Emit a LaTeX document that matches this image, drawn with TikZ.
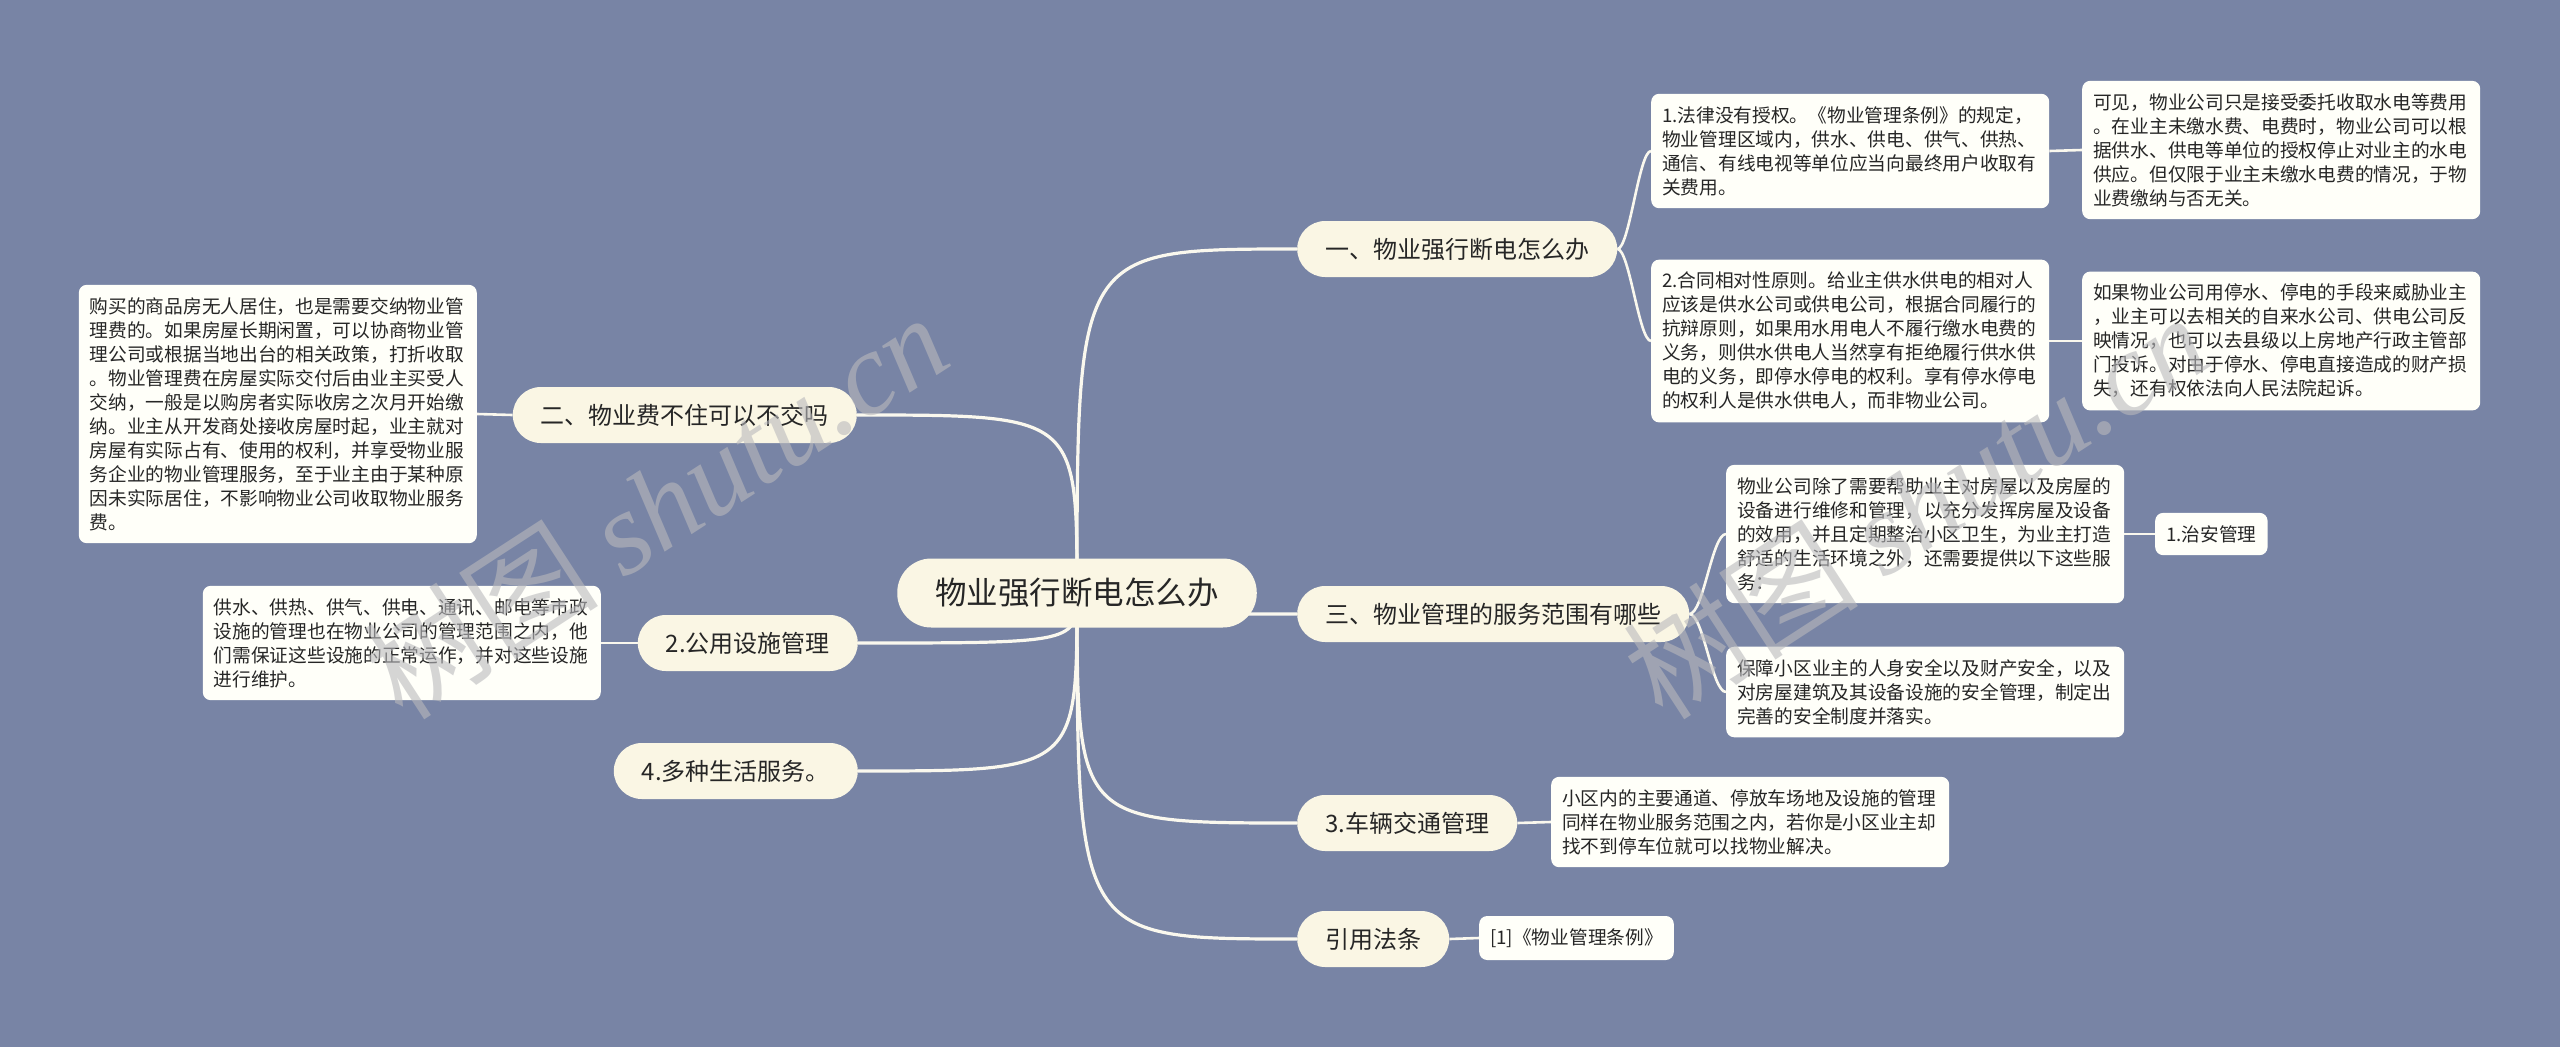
\documentclass[tikz,border=0pt]{standalone}
\usepackage{fontspec}
\setmainfont{Noto Sans CJK SC}
\newfontfamily\wmserif{Liberation Serif}
\newfontfamily\wmcjk{Noto Sans CJK SC}
\usetikzlibrary{backgrounds}
\definecolor{bgc}{RGB}{120,132,165}
\definecolor{branchfill}{RGB}{250,246,228}
\definecolor{leaffill}{RGB}{255,255,249}
\definecolor{linec}{RGB}{250,248,238}
\definecolor{txt}{RGB}{38,38,38}
\definecolor{wmc}{RGB}{185,185,188}
\begin{document}
\begin{tikzpicture}[x=1pt,y=-1pt,
  rootnode/.style={fill=branchfill, rounded corners=34pt, minimum height=69pt, inner xsep=38pt, inner ysep=0pt, text=txt, font=\fontsize{31.5}{38}\selectfont},
  branch/.style={fill=branchfill, rounded corners=28pt, minimum height=56pt, inner xsep=28pt, inner ysep=0pt, text=txt, font=\fontsize{24}{30}\selectfont},
  leaf/.style={fill=leaffill, rounded corners=8pt, text=txt, font=\fontsize{18.7}{24}\selectfont, inner xsep=11pt, inner ysep=12.5pt, align=left},
  leafw/.style={leaf, text width=376pt},
  mainline/.style={draw=linec, line width=3.2pt},
  leafline/.style={draw=linec, line width=2.6pt},
  wm/.style={text=wmc, opacity=0.6, inner sep=0pt}]
\useasboundingbox (0,0) rectangle (2560,1047);
\begin{pgfonlayer}{background}
\fill[bgc] (0,0) rectangle (2560,1047);
\end{pgfonlayer}

% root
\node[rootnode] (root) at (1077,593) {物业强行断电怎么办};

% right branches
\node[branch, anchor=west] (A) at (1297,249) {一、物业强行断电怎么办};
\node[branch, anchor=west] (B) at (1297,614) {三、物业管理的服务范围有哪些};
\node[branch, anchor=west] (C) at (1297,823) {3.车辆交通管理};
\node[branch, anchor=west] (D) at (1297,939) {引用法条};

% left branches
\node[branch, anchor=east] (E) at (857,415) {二、物业费不住可以不交吗};
\node[branch, anchor=east] (F) at (858,643) {2.公用设施管理};
\node[branch, anchor=east] (G) at (858,771) {4.多种生活服务。};

% leaves right
\node[leafw, anchor=west] (b1) at (1651,151) {1.法律没有授权。《物业管理条例》的规定，\\物业管理区域内，供水、供电、供气、供热、\\通信、有线电视等单位应当向最终用户收取有\\关费用。};
\node[leafw, anchor=west] (b2) at (2082,150) {可见，物业公司只是接受委托收取水电等费用\\。在业主未缴水费、电费时，物业公司可以根\\据供水、供电等单位的授权停止对业主的水电\\供应。但仅限于业主未缴水电费的情况，于物\\业费缴纳与否无关。};
\node[leafw, anchor=west] (b3) at (1651,341) {2.合同相对性原则。给业主供水供电的相对人\\应该是供水公司或供电公司，根据合同履行的\\抗辩原则，如果用水用电人不履行缴水电费的\\义务，则供水供电人当然享有拒绝履行供水供\\电的义务，即停水停电的权利。享有停水停电\\的权利人是供水供电人，而非物业公司。};
\node[leafw, anchor=west] (b4) at (2082,341) {如果物业公司用停水、停电的手段来威胁业主\\，业主可以去相关的自来水公司、供电公司反\\映情况，也可以去县级以上房地产行政主管部\\门投诉。对由于停水、停电直接造成的财产损\\失，还有权依法向人民法院起诉。};
\node[leafw, anchor=west] (b5) at (1726,534) {物业公司除了需要帮助业主对房屋以及房屋的\\设备进行维修和管理，以充分发挥房屋及设备\\的效用，并且定期整治小区卫生，为业主打造\\舒适的生活环境之外，还需要提供以下这些服\\务：};
\node[leaf, anchor=west] (b6) at (2155,534) {1.治安管理};
\node[leafw, anchor=west] (b7) at (1726,692) {保障小区业主的人身安全以及财产安全，以及\\对房屋建筑及其设备设施的安全管理，制定出\\完善的安全制度并落实。};
\node[leafw, anchor=west] (b8) at (1551,822) {小区内的主要通道、停放车场地及设施的管理\\同样在物业服务范围之内，若你是小区业主却\\找不到停车位就可以找物业解决。};
\node[leaf, anchor=west] (b9) at (1479,938) {[1]《物业管理条例》};

% leaves left
\node[leafw, anchor=east] (l1) at (477,414) {购买的商品房无人居住，也是需要交纳物业管\\理费的。如果房屋长期闲置，可以协商物业管\\理公司或根据当地出台的相关政策，打折收取\\。物业管理费在房屋实际交付后由业主买受人\\交纳，一般是以购房者实际收房之次月开始缴\\纳。业主从开发商处接收房屋时起，业主就对\\房屋有实际占有、使用的权利，并享受物业服\\务企业的物业管理服务，至于业主由于某种原\\因未实际居住，不影响物业公司收取物业服务\\费。};
\node[leafw, anchor=east] (l2) at (601,643) {供水、供热、供气、供电、通讯、邮电等市政\\设施的管理也在物业公司的管理范围之内，他\\们需保证这些设施的正常运作，并对这些设施\\进行维护。};

\begin{pgfonlayer}{background}
% root to branches
\draw[mainline] (root.center) .. controls (root.center |- A.west) .. (A.west);
\draw[mainline] (root.center) .. controls (root.center |- B.west) .. (B.west);
\draw[mainline] (root.center) .. controls (root.center |- C.west) .. (C.west);
\draw[mainline] (root.center) .. controls (root.center |- D.west) .. (D.west);
\draw[mainline] (root.center) .. controls (root.center |- E.east) .. (E.east);
\draw[mainline] (root.center) .. controls (root.center |- F.east) .. (F.east);
\draw[mainline] (root.center) .. controls (root.center |- G.east) .. (G.east);
% branches to leaves
\draw[leafline] (A.east) .. controls +(12,0) and +(-12,0) .. (b1.west);
\draw[leafline] (A.east) .. controls +(12,0) and +(-12,0) .. (b3.west);
\draw[leafline] (b1.east) -- (b2.west);
\draw[leafline] (b3.east) -- (b4.west);
\draw[leafline] (B.east) .. controls +(14,0) and +(-14,0) .. (b5.west);
\draw[leafline] (B.east) .. controls +(14,0) and +(-14,0) .. (b7.west);
\draw[leafline] (b5.east) -- (b6.west);
\draw[leafline] (C.east) -- (b8.west);
\draw[leafline] (D.east) -- (b9.west);
\draw[leafline] (E.west) -- (l1.east);
\draw[leafline] (F.west) -- (l2.east);
\end{pgfonlayer}

% watermarks
\node[wm, rotate=33] (wm1) at (655,505) {\fontsize{118}{130}\selectfont{\wmcjk 树图} {\wmserif\itshape shutu.cn}};
\node[wm, rotate=33] (wm2) at (1915,505) {\fontsize{118}{130}\selectfont{\wmcjk 树图} {\wmserif\itshape shutu.cn}};
\end{tikzpicture}
\end{document}
